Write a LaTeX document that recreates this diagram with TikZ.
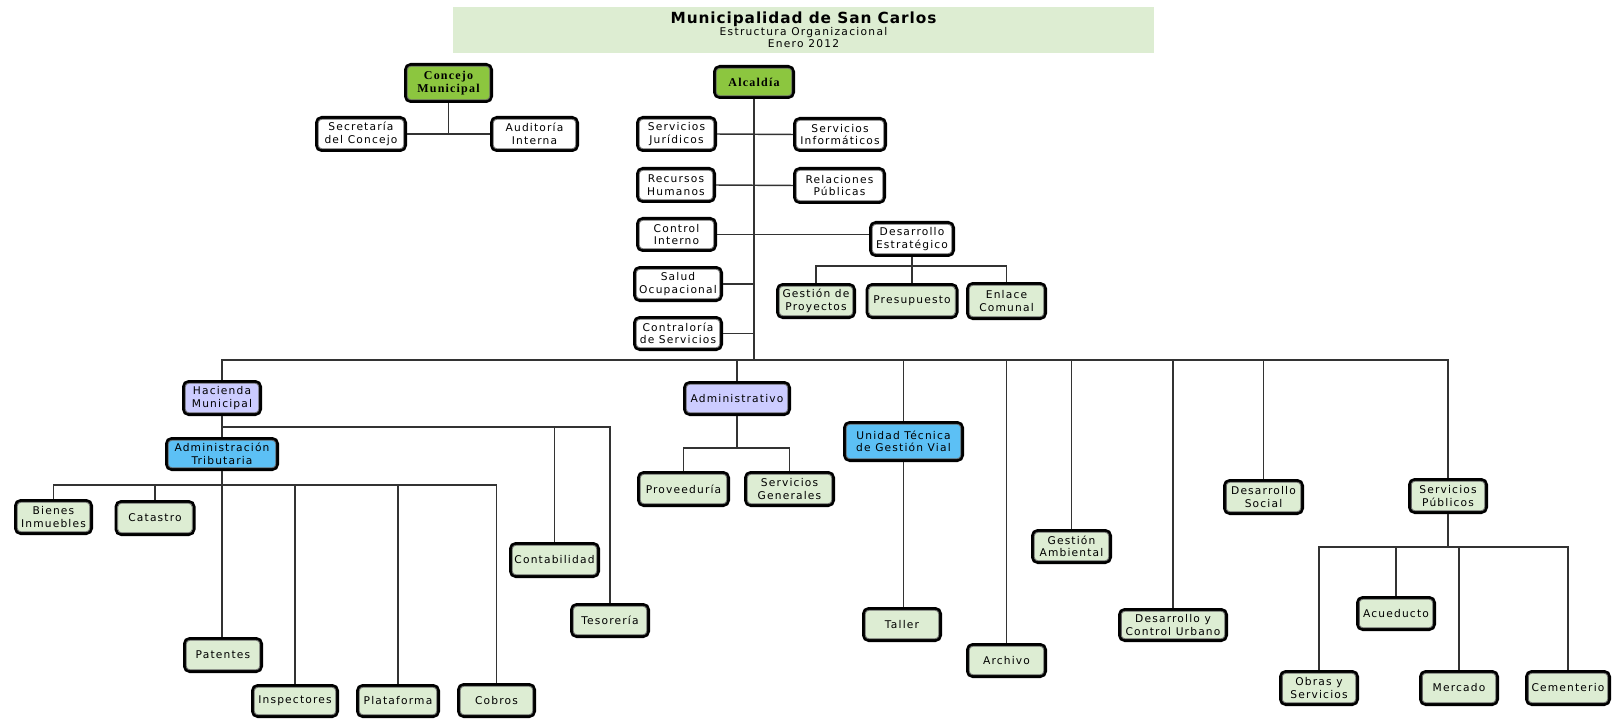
\documentclass[tikz,border=0pt]{standalone}
\usepackage{fontspec}
\newfontfamily\boxfont[LetterSpace=11]{DejaVu Sans}
\newfontfamily\serbfont[LetterSpace=10]{Liberation Serif}
\newfontfamily\titfont[LetterSpace=6]{DejaVu Sans}
\newfontfamily\subtfont[LetterSpace=12]{DejaVu Sans}
\definecolor{cgreen}{RGB}{140,198,63}
\definecolor{clight}{RGB}{221,237,211}
\definecolor{ctitle}{RGB}{221,237,210}
\definecolor{cpurple}{RGB}{204,204,255}
\definecolor{cblue}{RGB}{92,192,245}
\begin{document}
\begin{tikzpicture}[x=0.75pt,y=-0.75pt,
  box/.style={rounded corners=4pt, draw=black, line width=2.1pt, align=center,
    inner sep=1pt, text=black, font=\boxfont\fontsize{8pt}{9.4pt}\selectfont},
  sz/.style 2 args={minimum width={(#1)*0.75pt-2.1pt}, minimum height={(#2)*0.75pt-2.1pt}},
  lg/.style={box, fill=clight},
  wh/.style={box, fill=white},
  pu/.style={box, fill=cpurple},
  bl/.style={box, fill=cblue},
  gr/.style={box, fill=cgreen, font=\serbfont\bfseries\fontsize{9pt}{10pt}\selectfont},
  innerline/.style={draw=black!60, line width=0.6pt, rounded corners=2.5pt},
  conn/.style={draw=black!80, line width=1.1pt}
]
\fill[white] (0,0) rectangle (1612,720);
\useasboundingbox (0,0) rectangle (1612,720);

% title
\node[fill=ctitle, minimum width=701*0.75pt, minimum height=46*0.75pt, inner sep=0, anchor=north west] (titlebox) at (453,7) {};
\node[font=\titfont\bfseries\fontsize{11.5pt}{12pt}\selectfont, inner sep=0] (t1) at (803.5,19) {Municipalidad de San Carlos};
\node[font=\subtfont\fontsize{8pt}{9pt}\selectfont, inner sep=0] (t2) at (803.5,33) {Estructura Organizacional};
\node[font=\subtfont\fontsize{8pt}{9pt}\selectfont, inner sep=0] (t3) at (803.5,44) {Enero 2012};

% top level
\node[gr, sz={89}{40}] (concejo) at (448.5,83) {Concejo\\Municipal};
\node[gr, sz={82}{34}] (alc) at (754,82) {Alcaldía};
\node[wh, sz={92}{36}] (secretaria) at (361,134) {Secretaría\\del Concejo};
\node[wh, sz={89}{36}] (auditoria) at (534.5,134) {Auditoría\\Interna};

\node[wh, sz={81}{36}] (sjur) at (676.5,134) {Servicios\\Jurídicos};
\node[wh, sz={94}{35}] (sinf) at (840,134.5) {Servicios\\Informáticos};
\node[wh, sz={80}{36}] (rrhh) at (676,185) {Recursos\\Humanos};
\node[wh, sz={93}{37}] (rrpp) at (839.5,185.5) {Relaciones\\Públicas};
\node[wh, sz={81}{35}] (cint) at (676.5,234.5) {Control\\Interno};
\node[wh, sz={86}{36}] (dest) at (912,239) {Desarrollo\\Estratégico};
\node[wh, sz={90}{36}] (salud) at (678,284) {Salud\\Ocupacional};
\node[wh, sz={90}{35}] (contral) at (678,333.5) {Contraloría\\de Servicios};
\node[lg, sz={80}{36}] (gproy) at (816,301) {Gestión de\\Proyectos};
\node[lg, sz={93}{36}] (presup) at (912,301) {Presupuesto};
\node[lg, sz={81}{38}] (enlace) at (1006.5,301) {Enlace\\Comunal};

% second level
\node[pu, sz={80}{36}] (hac) at (222,398) {Hacienda\\Municipal};
\node[pu, sz={108}{35}] (admin) at (737,398.5) {Administrativo};
\node[bl, sz={121}{41}] (utgv) at (903.5,441.5) {Unidad Técnica\\de Gestión Vial};
\node[lg, sz={81}{35}] (archivo) at (1006.5,660.5) {Archivo};
\node[lg, sz={81}{35}] (gamb) at (1071.5,546.5) {Gestión\\Ambiental};
\node[lg, sz={110}{34}] (dcu) at (1173,625) {Desarrollo y\\Control Urbano};
\node[lg, sz={81}{36}] (dsoc) at (1263.5,497) {Desarrollo\\Social};
\node[lg, sz={80}{36}] (spub) at (1448,496) {Servicios\\Públicos};

% hacienda branch
\node[bl, sz={114}{34}] (admtrib) at (222,454) {Administración\\Tributaria};
\node[lg, sz={91}{36}] (contab) at (554.5,560) {Contabilidad};
\node[lg, sz={80}{35}] (tesor) at (610,620.5) {Tesorería};
\node[lg, sz={79}{36}] (bienes) at (53.5,517) {Bienes\\Inmuebles};
\node[lg, sz={81}{36}] (catastro) at (155,518) {Catastro};
\node[lg, sz={80}{36}] (patentes) at (223,655) {Patentes};
\node[lg, sz={88}{34}] (inspect) at (295,701) {Inspectores};
\node[lg, sz={84}{34}] (plataf) at (398,701) {Plataforma};
\node[lg, sz={79}{35}] (cobros) at (496.5,700.5) {Cobros};

% administrativo branch
\node[lg, sz={93}{36}] (proveed) at (683.5,489) {Proveeduría};
\node[lg, sz={91}{36}] (sgen) at (789.5,489) {Servicios\\Generales};
\node[lg, sz={80}{35}] (taller) at (902,624.5) {Taller};

% servicios publicos branch
\node[lg, sz={80}{35}] (acued) at (1396,613.5) {Acueducto};
\node[lg, sz={80}{36}] (obras) at (1319,688) {Obras y\\Servicios};
\node[lg, sz={80}{36}] (mercado) at (1459,688) {Mercado};
\node[lg, sz={86}{36}] (cement) at (1568,688) {Cementerio};

% inner lines of the boxes
\foreach \n in {concejo,alc,secretaria,auditoria,sjur,sinf,rrhh,rrpp,cint,dest,salud,contral,gproy,presup,enlace,hac,admin,utgv,archivo,gamb,dcu,dsoc,spub,admtrib,contab,tesor,bienes,catastro,patentes,inspect,plataf,cobros,proveed,sgen,taller,acued,obras,mercado,cement}
  \draw[innerline] ([shift={(2.5pt,-2.5pt)}]\n.north west) rectangle ([shift={(-2.5pt,2.5pt)}]\n.south east);

% coordinates for horizontal rails
\coordinate (bus) at (0,360);
\coordinate (dy) at (0,266);
\coordinate (hy) at (0,427);
\coordinate (ay) at (0,485);
\coordinate (my) at (0,448);
\coordinate (sy) at (0,547);

% concejo
\draw[conn] (concejo.south) -- (concejo.south |- secretaria.east);
\draw[conn] (secretaria.east) -- (auditoria.west);

% alcaldia
\draw[conn] (alc.south) -- (alc.south |- bus);
\draw[conn] (sjur.east) -- (sinf.west);
\draw[conn] (rrhh.east) -- (rrpp.west);
\draw[conn] (cint.east) -- (cint.east -| dest.west);
\draw[conn] (salud.east) -- (salud.east -| alc.south);
\draw[conn] (contral.east) -- (contral.east -| alc.south);
\draw[conn] (dest.south) -- (dest.south |- dy);
\draw[conn] (gproy.north) -- (gproy.north |- dy) -- (enlace.north |- dy) -- (enlace.north);
\draw[conn] (presup.north) -- (presup.north |- dy);

% main bus
\draw[conn] (hac.north) -- (hac.north |- bus) -- (spub.north |- bus) -- (spub.north);
\foreach \n in {admin,utgv,archivo,gamb,dcu,dsoc}
  \draw[conn] (\n.north) -- (\n.north |- bus);

% hacienda
\draw[conn] (hac.south) -- (admtrib.north);
\draw[conn] (hac.south |- hy) -- (tesor.north |- hy) -- (tesor.north);
\draw[conn] (contab.north) -- (contab.north |- hy);
\draw[conn] (admtrib.south) -- (admtrib.south |- patentes.north);
\draw[conn] (bienes.north) -- (bienes.north |- ay) -- (cobros.north |- ay) -- (cobros.north);
\foreach \n in {catastro,inspect,plataf}
  \draw[conn] (\n.north) -- (\n.north |- ay);

% administrativo
\draw[conn] (admin.south) -- (admin.south |- my);
\draw[conn] (proveed.north) -- (proveed.north |- my) -- (sgen.north |- my) -- (sgen.north);
\draw[conn] (utgv.south) -- (utgv.south |- taller.north);

% servicios publicos
\draw[conn] (spub.south) -- (spub.south |- sy);
\draw[conn] (obras.north) -- (obras.north |- sy) -- (cement.north |- sy) -- (cement.north);
\foreach \n in {acued,mercado}
  \draw[conn] (\n.north) -- (\n.north |- sy);
\end{tikzpicture}
\end{document}
